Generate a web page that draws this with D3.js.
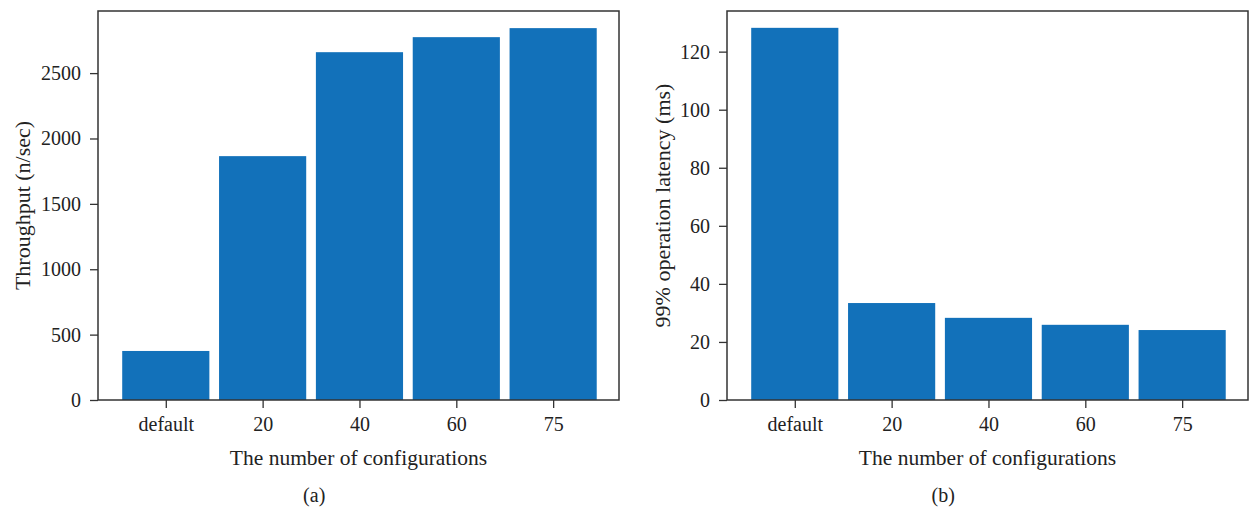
<!DOCTYPE html>
<html>
<head>
<meta charset="utf-8">
<script src="https://d3js.org/d3.v7.min.js"></script>
<style>
  body { margin: 0; background: #fff; }
  svg text { font-family: "Liberation Serif", "DejaVu Serif", serif; fill: #222; }
  .tick line { stroke: #333; stroke-width: 1.3; }
</style>
</head>
<body>
<svg id="chart" width="1250" height="510"></svg>
<script>
// data
const categories = ['default', '20', '40', '60', '75'];
const throughput = [375, 1865, 2660, 2775, 2844];
const latency = [128.2, 33.4, 28.3, 25.9, 24.1];
const throughputTicks = [0, 500, 1000, 1500, 2000, 2500];
const latencyTicks = [0, 20, 40, 60, 80, 100, 120];

const svg = d3.select('#chart');
const plotTop = 11, plotBottom = 400;
const barColor = '#1271ba';

const panels = [
  { left: 98, right: 619, values: throughput, ticks: throughputTicks, yMax: 2975,
    yLabel: 'Throughput (n/sec)', yLabelX: 30, caption: '(a)' },
  { left: 727, right: 1248, values: latency, ticks: latencyTicks, yMax: 134,
    yLabel: '99% operation latency (ms)', yLabelX: 670, caption: '(b)' }
];

panels.forEach(p => {
  const g = svg.append('g');
  const x = d3.scaleLinear().domain([-0.7, 4.68]).range([p.left, p.right]);
  const y = d3.scaleLinear().domain([0, p.yMax]).range([plotBottom, plotTop]);
  const bw = x(0.9) - x(0);

  // bars
  g.selectAll('rect.bar')
    .data(p.values)
    .enter().append('rect')
    .attr('class', 'bar')
    .attr('x', (d, i) => x(i) - bw / 2)
    .attr('width', bw)
    .attr('y', d => y(d))
    .attr('height', d => y(0) - y(d))
    .attr('fill', barColor);

  // axes
  const xAxis = g.append('g')
    .attr('transform', `translate(0,${plotBottom})`)
    .call(d3.axisBottom(x).tickValues(d3.range(categories.length))
      .tickFormat(i => categories[i]).tickSize(8).tickPadding(8).tickSizeOuter(0));
  xAxis.select('.domain').remove();
  xAxis.selectAll('text').attr('font-size', 20).attr('dy', '0.75em');

  const yAxis = g.append('g')
    .attr('transform', `translate(${p.left},0)`)
    .call(d3.axisLeft(y).tickValues(p.ticks).tickFormat(d3.format('d'))
      .tickSize(8).tickPadding(9).tickSizeOuter(0));
  yAxis.select('.domain').remove();
  yAxis.selectAll('text').attr('font-size', 20);

  // frame
  g.append('rect')
    .attr('x', p.left).attr('y', plotTop)
    .attr('width', p.right - p.left).attr('height', plotBottom - plotTop)
    .attr('fill', 'none').attr('stroke', '#333').attr('stroke-width', 1.5);

  // labels
  g.append('text')
    .attr('x', (p.left + p.right) / 2).attr('y', 465)
    .attr('text-anchor', 'middle').attr('font-size', 21.5)
    .text('The number of configurations');

  g.append('text')
    .attr('transform', `translate(${p.yLabelX},${(plotTop + plotBottom) / 2}) rotate(-90)`)
    .attr('text-anchor', 'middle').attr('font-size', 22)
    .text(p.yLabel);

  g.append('text')
    .attr('x', p.left + (p.right - p.left) * 0.415).attr('y', 502)
    .attr('text-anchor', 'middle').attr('font-size', 20)
    .text(p.caption);
});
</script>
</body>
</html>
